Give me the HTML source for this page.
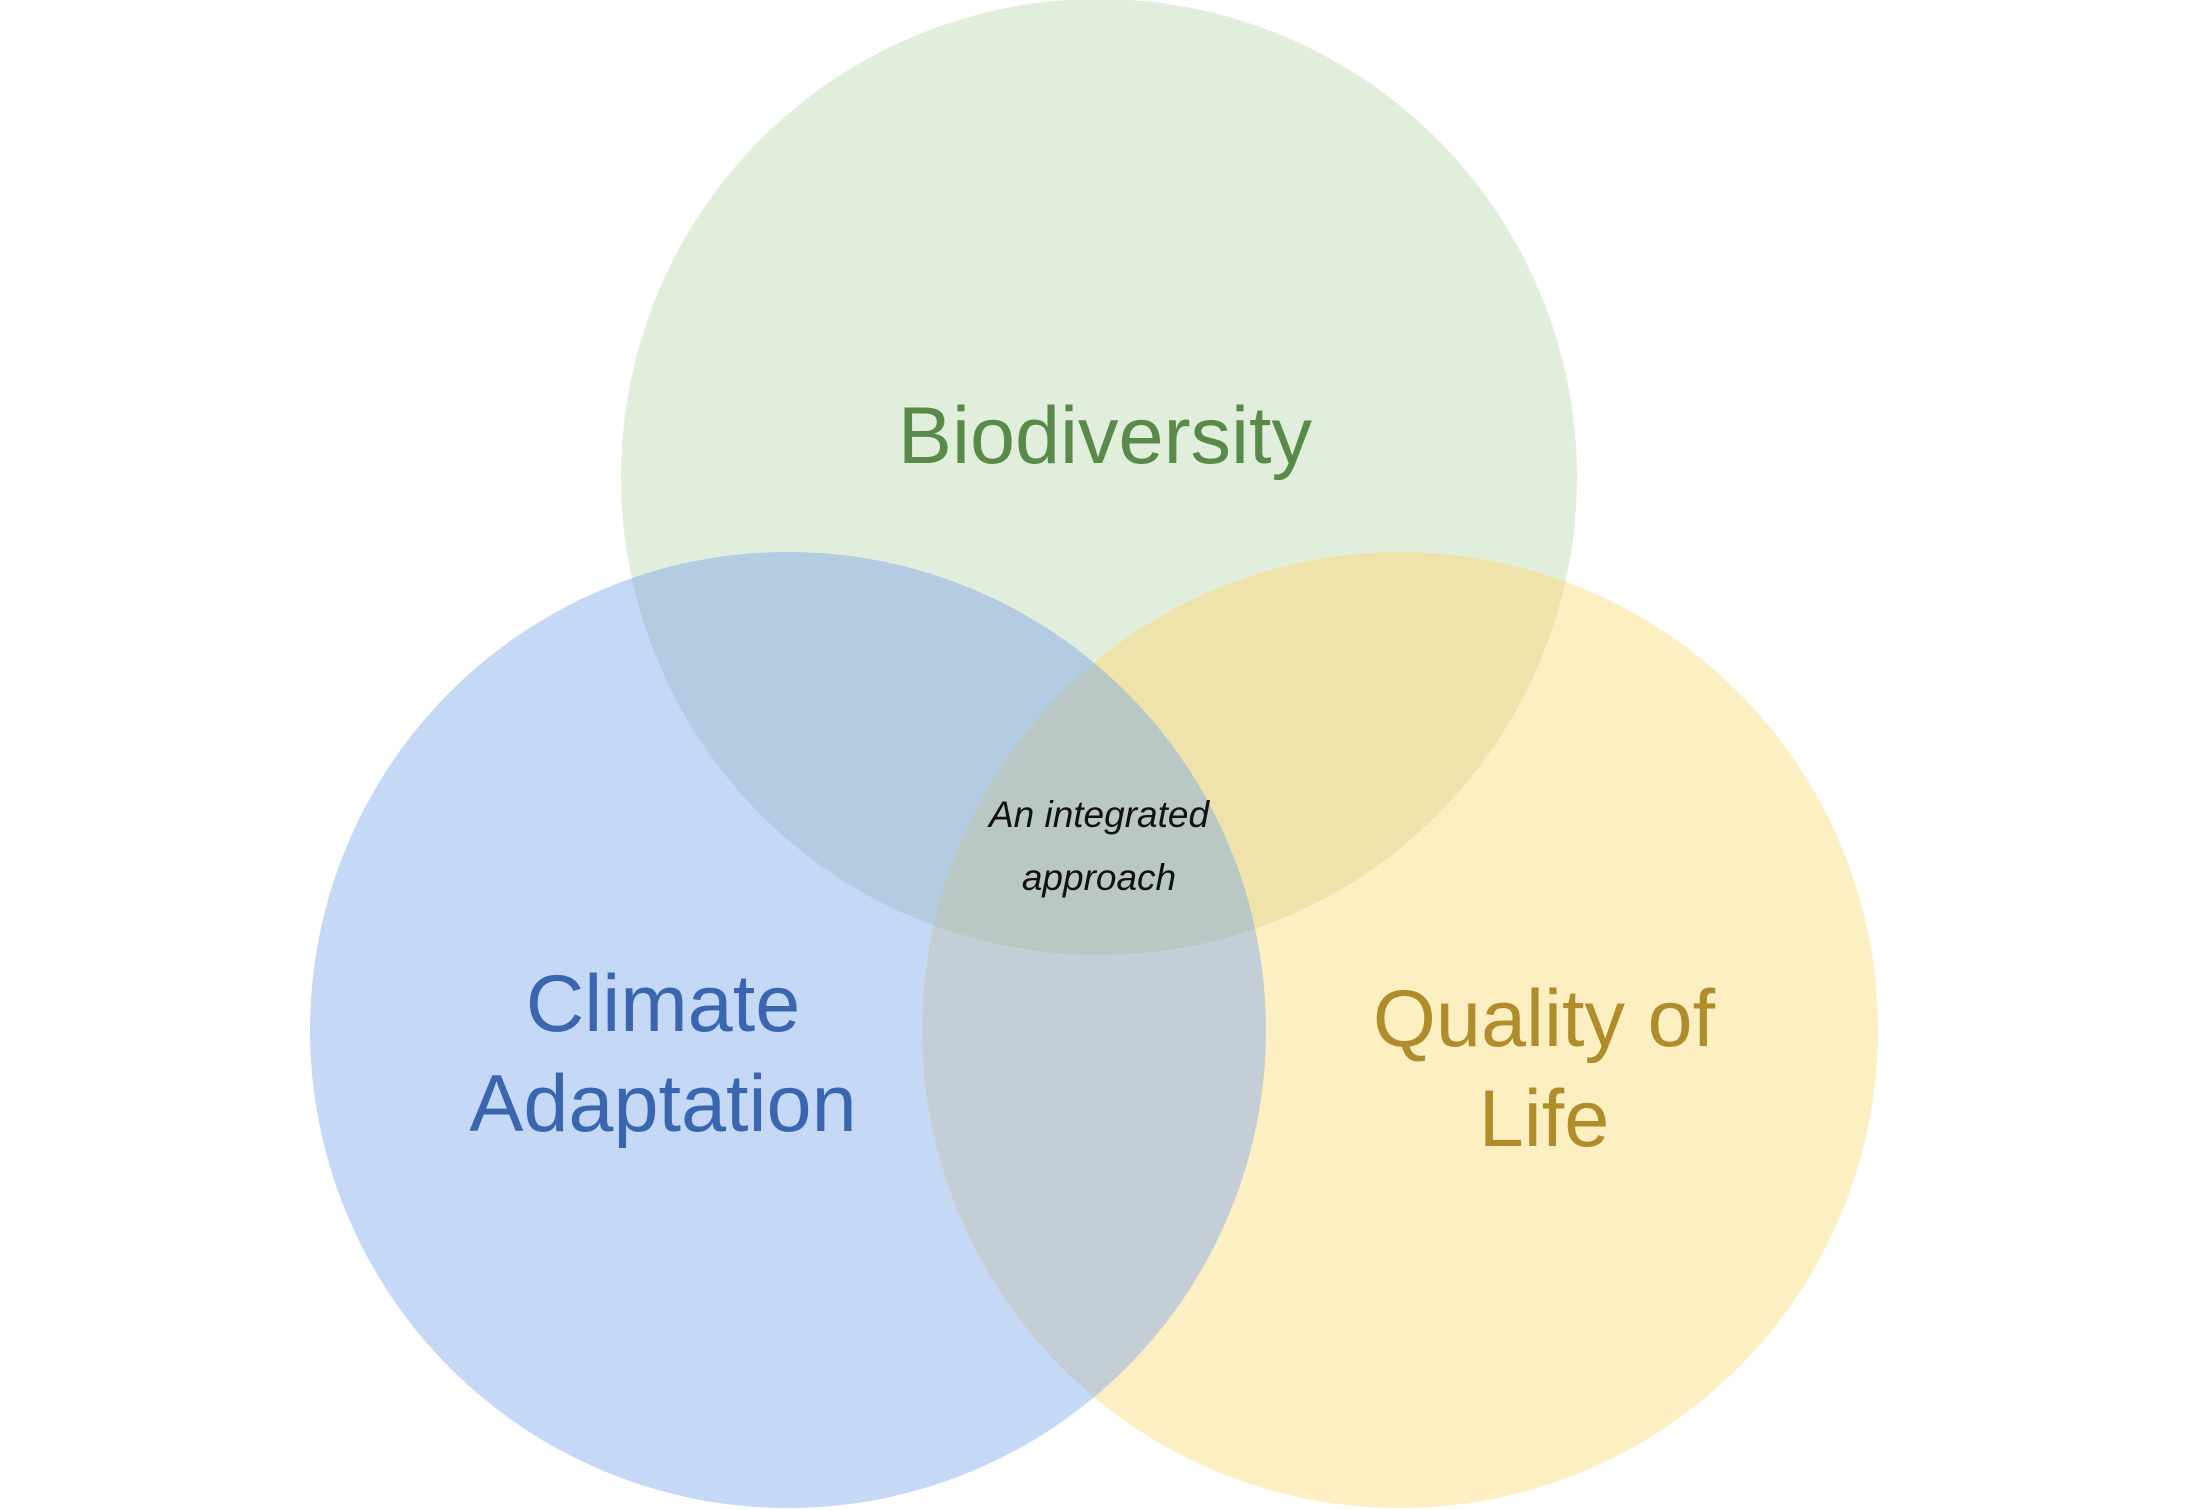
<!DOCTYPE html>
<html><head><meta charset="utf-8"><style>
html,body{margin:0;padding:0;background:#fff;}
svg{display:block;}
text{font-family:"Liberation Sans",sans-serif;}
</style></head><body>
<svg width="2206" height="1510" viewBox="0 0 2206 1510">
<defs>
<clipPath id="cg"><circle cx="1099" cy="477" r="478"/></clipPath>
<clipPath id="cb"><circle cx="788" cy="1030" r="478"/></clipPath>
<clipPath id="cy"><circle cx="1400" cy="1030" r="478"/></clipPath>
</defs>
<circle cx="1099" cy="477" r="478" fill="#e1eedc"/>
<circle cx="788" cy="1030" r="478" fill="#c5d8f6"/>
<circle cx="1400" cy="1030" r="478" fill="#fcefc2"/>
<g clip-path="url(#cg)"><circle cx="788" cy="1030" r="478" fill="#b3cce1"/></g>
<g clip-path="url(#cg)"><circle cx="1400" cy="1030" r="478" fill="#ede3ab"/></g>
<g clip-path="url(#cb)"><circle cx="1400" cy="1030" r="478" fill="#c4ced6"/></g>
<g clip-path="url(#cg)"><g clip-path="url(#cb)"><circle cx="1400" cy="1030" r="478" fill="#b9c8c4"/></g></g>
<text x="1105" y="463" text-anchor="middle" font-size="81" fill="#5a8a4a">Biodiversity</text>
<text text-anchor="middle" font-size="81" fill="#3a66b0"><tspan x="663" y="1031">Climate</tspan><tspan x="663" y="1131">Adaptation</tspan></text>
<text text-anchor="middle" font-size="81" fill="#b08d2a"><tspan x="1544" y="1046">Quality of</tspan><tspan x="1544" y="1146">Life</tspan></text>
<text text-anchor="middle" font-size="37" font-style="italic" fill="#111"><tspan x="1099" y="827">An integrated</tspan><tspan x="1099" y="890">approach</tspan></text>
</svg>
</body></html>
